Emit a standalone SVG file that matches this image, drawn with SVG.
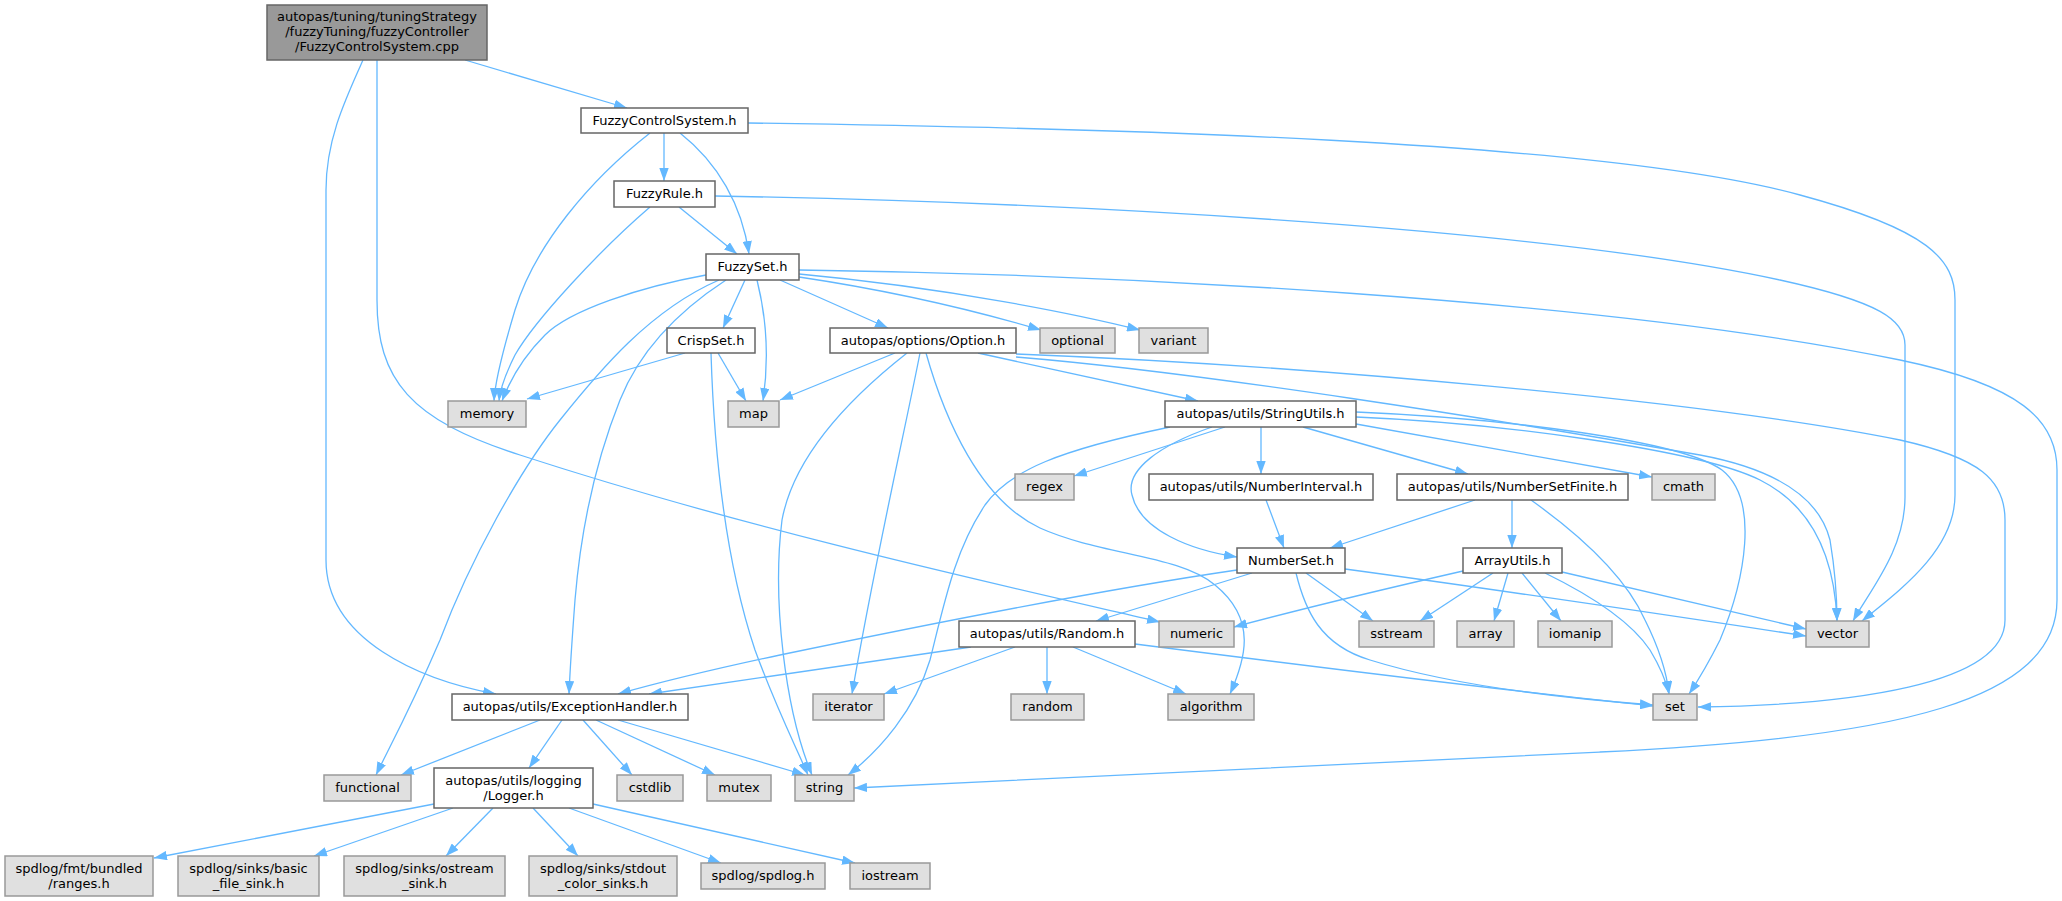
<svg xmlns="http://www.w3.org/2000/svg" width="2062" height="901" viewBox="0 0 2062 901">
<style>
.w{fill:#ffffff;stroke:#666666;stroke-width:1.5}
.g{fill:#e0e0e0;stroke:#999999;stroke-width:1.5}
.r{fill:#999999;stroke:#666666;stroke-width:1.5}
text{font-family:"DejaVu Sans","Liberation Sans",sans-serif;font-size:13px;fill:#000;text-anchor:middle}
.e{fill:none;stroke:#63b8ff;stroke-width:1.3;marker-end:url(#a)}
</style>
<defs>
<marker id="a" viewBox="0 0 13 9.4" refX="13" refY="4.7" markerWidth="13" markerHeight="9.4" markerUnits="userSpaceOnUse" orient="auto">
<path d="M0,0 L13,4.7 L0,9.4 z" fill="#63b8ff"/>
</marker>
</defs>
<rect width="2062" height="901" fill="#ffffff"/>
<g id="edges">
<path class="e" d="M465,60 L627,108"/>
<path class="e" d="M363,60 C345,100 326,140 326,190 L326,560 C326,640 420,680 496,694"/>
<path class="e" d="M377,60 L377,300 C377,380 410,420 520,455 C750,530 1000,585 1160,622"/>
<path class="e" d="M664,133 L664,181"/>
<path class="e" d="M680,133 C718,163 742,205 749,254"/>
<path class="e" d="M650,133 C590,180 535,245 515,310 C503,350 495,380 494,401"/>
<path class="e" d="M679,207 L737,254"/>
<path class="e" d="M650,207 C600,250 535,320 515,355 C505,375 500,390 499,401"/>
<path class="e" d="M748,123 C1100,128 1600,140 1800,195 C1930,230 1955,260 1955,300 L1955,495 C1955,550 1900,590 1862,621"/>
<path class="e" d="M715,196 C1100,203 1550,230 1780,280 C1880,302 1905,320 1905,345 L1905,497 C1905,550 1870,590 1853,621"/>
<path class="e" d="M745,280 L723,328"/>
<path class="e" d="M757,280 C767,320 769,360 763,401"/>
<path class="e" d="M706,275 C640,287 570,310 545,335 C522,358 510,380 502,401"/>
<path class="e" d="M719,280 C650,310 600,370 560,420 C520,470 470,560 440,640 C410,710 388,750 376,775"/>
<path class="e" d="M726,280 C680,310 640,350 620,400 C592,470 580,540 575,600 C572,640 570,670 569,694"/>
<path class="e" d="M780,280 L888,328"/>
<path class="e" d="M799,277 C900,292 990,315 1041,330"/>
<path class="e" d="M799,274 C950,288 1080,315 1140,330"/>
<path class="e" d="M799,270 C1100,274 1600,298 1900,360 C2020,385 2057,420 2057,470 L2057,600 C2057,700 1900,738 1600,752 C1300,766 1000,782 854,788"/>
<path class="e" d="M718,353 L746,401"/>
<path class="e" d="M685,353 L527,399"/>
<path class="e" d="M711,353 C714,450 725,560 755,650 C775,705 795,745 808,775"/>
<path class="e" d="M895,353 L780,400"/>
<path class="e" d="M907,353 C860,390 795,450 782,520 C772,600 785,710 812,775"/>
<path class="e" d="M920,353 C905,430 875,560 852,694"/>
<path class="e" d="M926,353 C945,420 980,500 1040,528 C1100,555 1180,555 1215,585 C1258,620 1245,660 1230,694"/>
<path class="e" d="M978,353 L1198,401"/>
<path class="e" d="M1016,354 C1300,365 1700,400 1900,440 C1980,458 2005,480 2005,520 L2005,620 C2005,685 1850,705 1698,707"/>
<path class="e" d="M1016,357 C1200,372 1500,420 1700,455 C1780,470 1820,500 1830,540 C1835,570 1837,600 1837,621"/>
<path class="e" d="M1261,427 L1261,474"/>
<path class="e" d="M1303,427 L1468,474"/>
<path class="e" d="M1356,424 L1652,477"/>
<path class="e" d="M1225,427 L1074,476"/>
<path class="e" d="M1170,427 C1060,450 1010,470 985,505 C955,550 945,600 930,660 C915,710 880,750 848,775"/>
<path class="e" d="M1212,427 C1160,445 1125,470 1132,495 C1140,530 1190,550 1237,557"/>
<path class="e" d="M1356,412 C1500,418 1680,440 1722,470 C1760,500 1745,580 1720,640 C1705,670 1693,688 1689,694"/>
<path class="e" d="M1356,417 C1500,423 1700,450 1760,480 C1820,510 1835,570 1837,621"/>
<path class="e" d="M1266,500 L1284,548"/>
<path class="e" d="M1475,500 L1330,548"/>
<path class="e" d="M1512,500 L1512,548"/>
<path class="e" d="M1531,500 C1580,535 1625,575 1645,620 C1660,650 1667,675 1669,694"/>
<path class="e" d="M1252,573 L1096,621"/>
<path class="e" d="M1237,570 C1100,590 900,630 780,655 C700,672 650,685 618,694"/>
<path class="e" d="M1306,573 L1373,621"/>
<path class="e" d="M1296,573 C1305,610 1320,645 1370,660 C1450,685 1560,698 1653,705"/>
<path class="e" d="M1345,569 C1500,590 1700,620 1806,636"/>
<path class="e" d="M1463,571 C1380,590 1290,612 1234,627"/>
<path class="e" d="M1493,573 L1420,621"/>
<path class="e" d="M1508,573 L1494,621"/>
<path class="e" d="M1522,573 L1561,621"/>
<path class="e" d="M1545,573 C1590,595 1630,620 1650,650 C1662,670 1667,685 1669,694"/>
<path class="e" d="M1562,572 L1806,629"/>
<path class="e" d="M971,647 L649,694"/>
<path class="e" d="M1015,647 L884,694"/>
<path class="e" d="M1047,647 L1047,694"/>
<path class="e" d="M1073,647 L1186,694"/>
<path class="e" d="M1135,644 C1300,665 1500,690 1653,706"/>
<path class="e" d="M540,720 L401,775"/>
<path class="e" d="M562,720 L529,768"/>
<path class="e" d="M583,720 L632,775"/>
<path class="e" d="M596,720 L715,775"/>
<path class="e" d="M618,720 L805,775"/>
<path class="e" d="M434,804 L154,858"/>
<path class="e" d="M453,808 L314,856"/>
<path class="e" d="M493,808 L446,856"/>
<path class="e" d="M533,808 L578,856"/>
<path class="e" d="M569,808 L721,863"/>
<path class="e" d="M593,804 L855,863"/>
</g>
<g id="n0"><rect class="r" x="267" y="5" width="220" height="55"/><text x="377" y="21">autopas/tuning/tuningStrategy</text><text x="377" y="36">/fuzzyTuning/fuzzyController</text><text x="377" y="51">/FuzzyControlSystem.cpp</text></g>
<g id="n1"><rect class="w" x="581" y="108" width="167" height="25"/><text x="664.5" y="125">FuzzyControlSystem.h</text></g>
<g id="n2"><rect class="w" x="614" y="181" width="101" height="26"/><text x="664.5" y="198">FuzzyRule.h</text></g>
<g id="n3"><rect class="w" x="706" y="254" width="93" height="26"/><text x="752.5" y="271">FuzzySet.h</text></g>
<g id="n4"><rect class="w" x="667" y="328" width="88" height="25"/><text x="711" y="345">CrispSet.h</text></g>
<g id="n5"><rect class="w" x="830" y="328" width="186" height="25"/><text x="923" y="345">autopas/options/Option.h</text></g>
<g id="n6"><rect class="g" x="1040" y="328" width="75" height="25"/><text x="1077.5" y="345">optional</text></g>
<g id="n7"><rect class="g" x="1139" y="328" width="69" height="25"/><text x="1173.5" y="345">variant</text></g>
<g id="n8"><rect class="g" x="448" y="401" width="78" height="26"/><text x="487" y="418">memory</text></g>
<g id="n9"><rect class="g" x="728" y="401" width="51" height="26"/><text x="753.5" y="418">map</text></g>
<g id="n10"><rect class="w" x="1165" y="401" width="191" height="26"/><text x="1260.5" y="418">autopas/utils/StringUtils.h</text></g>
<g id="n11"><rect class="g" x="1015" y="474" width="59" height="26"/><text x="1044.5" y="491">regex</text></g>
<g id="n12"><rect class="w" x="1149" y="474" width="224" height="26"/><text x="1261" y="491">autopas/utils/NumberInterval.h</text></g>
<g id="n13"><rect class="w" x="1397" y="474" width="231" height="26"/><text x="1512.5" y="491">autopas/utils/NumberSetFinite.h</text></g>
<g id="n14"><rect class="g" x="1652" y="474" width="63" height="26"/><text x="1683.5" y="491">cmath</text></g>
<g id="n15"><rect class="w" x="1237" y="548" width="108" height="25"/><text x="1291" y="565">NumberSet.h</text></g>
<g id="n16"><rect class="w" x="1463" y="548" width="99" height="25"/><text x="1512.5" y="565">ArrayUtils.h</text></g>
<g id="n17"><rect class="w" x="959" y="621" width="176" height="26"/><text x="1047" y="638">autopas/utils/Random.h</text></g>
<g id="n18"><rect class="g" x="1159" y="621" width="75" height="26"/><text x="1196.5" y="638">numeric</text></g>
<g id="n19"><rect class="g" x="1359" y="621" width="75" height="26"/><text x="1396.5" y="638">sstream</text></g>
<g id="n20"><rect class="g" x="1457" y="621" width="57" height="26"/><text x="1485.5" y="638">array</text></g>
<g id="n21"><rect class="g" x="1538" y="621" width="74" height="26"/><text x="1575" y="638">iomanip</text></g>
<g id="n22"><rect class="g" x="1806" y="621" width="63" height="26"/><text x="1837.5" y="638">vector</text></g>
<g id="n23"><rect class="w" x="452" y="694" width="236" height="26"/><text x="570" y="711">autopas/utils/ExceptionHandler.h</text></g>
<g id="n24"><rect class="g" x="813" y="694" width="71" height="26"/><text x="848.5" y="711">iterator</text></g>
<g id="n25"><rect class="g" x="1011" y="694" width="73" height="26"/><text x="1047.5" y="711">random</text></g>
<g id="n26"><rect class="g" x="1168" y="694" width="86" height="26"/><text x="1211" y="711">algorithm</text></g>
<g id="n27"><rect class="g" x="1653" y="694" width="44" height="26"/><text x="1675" y="711">set</text></g>
<g id="n28"><rect class="g" x="324" y="775" width="87" height="26"/><text x="367.5" y="792">functional</text></g>
<g id="n29"><rect class="w" x="434" y="768" width="159" height="40"/><text x="513.5" y="785">autopas/utils/logging</text><text x="513.5" y="800">/Logger.h</text></g>
<g id="n30"><rect class="g" x="617" y="775" width="66" height="26"/><text x="650" y="792">cstdlib</text></g>
<g id="n31"><rect class="g" x="707" y="775" width="64" height="26"/><text x="739" y="792">mutex</text></g>
<g id="n32"><rect class="g" x="795" y="775" width="59" height="26"/><text x="824.5" y="792">string</text></g>
<g id="n33"><rect class="g" x="5" y="856" width="148" height="40"/><text x="79" y="873">spdlog/fmt/bundled</text><text x="79" y="888">/ranges.h</text></g>
<g id="n34"><rect class="g" x="178" y="856" width="141" height="40"/><text x="248.5" y="873">spdlog/sinks/basic</text><text x="248.5" y="888">_file_sink.h</text></g>
<g id="n35"><rect class="g" x="344" y="856" width="161" height="40"/><text x="424.5" y="873">spdlog/sinks/ostream</text><text x="424.5" y="888">_sink.h</text></g>
<g id="n36"><rect class="g" x="529" y="856" width="148" height="40"/><text x="603" y="873">spdlog/sinks/stdout</text><text x="603" y="888">_color_sinks.h</text></g>
<g id="n37"><rect class="g" x="701" y="863" width="124" height="26"/><text x="763" y="880">spdlog/spdlog.h</text></g>
<g id="n38"><rect class="g" x="850" y="863" width="80" height="26"/><text x="890" y="880">iostream</text></g>
</svg>
